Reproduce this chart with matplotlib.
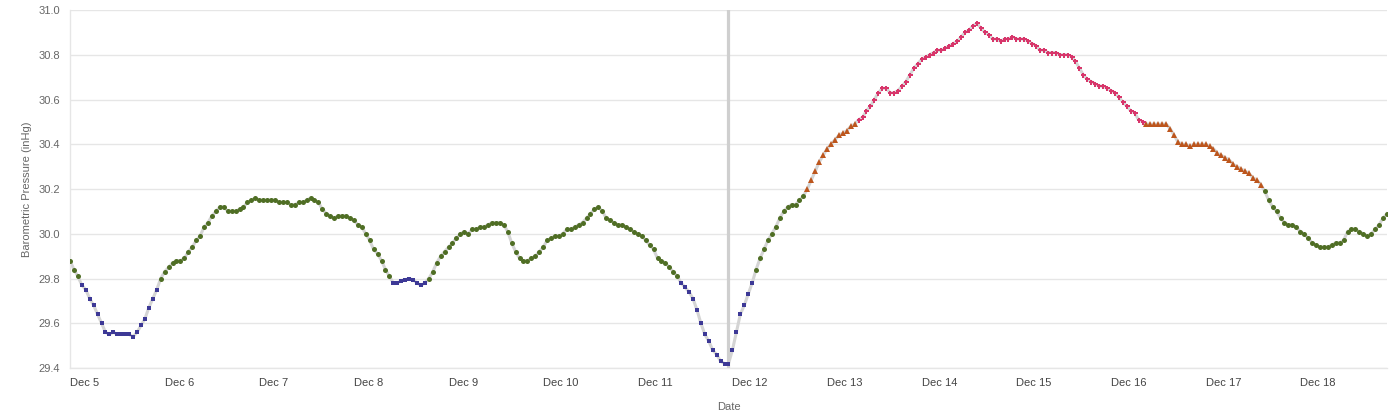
import numpy as np
import pandas as pd
import matplotlib
matplotlib.use('Agg')
import matplotlib.pyplot as plt
import matplotlib.transforms as mtransforms

# hourly barometric pressure (inHg), observed part up to "now", then forecast
observed = [
    29.88, 29.84, 29.81, 29.77, 29.75, 29.71, 29.68, 29.64, 29.60, 29.56, 29.55, 29.56,
    29.55, 29.55, 29.55, 29.55, 29.54, 29.56, 29.59, 29.62, 29.67, 29.71, 29.75, 29.80,
    29.83, 29.85, 29.87, 29.88, 29.88, 29.89, 29.92, 29.94, 29.97, 29.99, 30.03, 30.05,
    30.08, 30.10, 30.12, 30.12, 30.10, 30.10, 30.10, 30.11, 30.12, 30.14, 30.15, 30.16,
    30.15, 30.15, 30.15, 30.15, 30.15, 30.14, 30.14, 30.14, 30.13, 30.13, 30.14, 30.14,
    30.15, 30.16, 30.15, 30.14, 30.11, 30.09, 30.08, 30.07, 30.08, 30.08, 30.08, 30.07,
    30.06, 30.04, 30.03, 30.00, 29.97, 29.93, 29.91, 29.88, 29.84, 29.81, 29.78, 29.78,
    29.79, 29.795, 29.799, 29.795, 29.78, 29.77, 29.78, 29.80, 29.83, 29.87, 29.90, 29.92,
    29.94, 29.96, 29.98, 30.00, 30.01, 30.00, 30.02, 30.02, 30.03, 30.03, 30.04, 30.05,
    30.05, 30.05, 30.04, 30.01, 29.96, 29.92, 29.89, 29.88, 29.88, 29.89, 29.90, 29.92,
    29.94, 29.97, 29.98, 29.99, 29.99, 30.00, 30.02, 30.02, 30.03, 30.04, 30.05, 30.07,
    30.09, 30.11, 30.12, 30.10, 30.07, 30.06, 30.05, 30.04, 30.04, 30.03, 30.02, 30.01,
    30.00, 29.99, 29.97, 29.95, 29.93, 29.89, 29.88, 29.87, 29.85, 29.83, 29.81, 29.78,
    29.76, 29.74, 29.71, 29.66, 29.60, 29.55, 29.52, 29.48, 29.46, 29.43, 29.42, 29.42,
]
forecast = [
    29.48, 29.56, 29.64, 29.68, 29.73, 29.78, 29.84, 29.89, 29.93, 29.97, 30.00, 30.03,
    30.07, 30.10, 30.12, 30.13, 30.13, 30.15, 30.17, 30.20, 30.24, 30.28, 30.32, 30.35,
    30.38, 30.40, 30.42, 30.44, 30.45, 30.46, 30.48, 30.49, 30.51, 30.52, 30.55, 30.57,
    30.60, 30.63, 30.65, 30.65, 30.63, 30.63, 30.64, 30.66, 30.68, 30.71, 30.74, 30.76,
    30.78, 30.79, 30.80, 30.81, 30.82, 30.82, 30.83, 30.84, 30.85, 30.86, 30.88, 30.90,
    30.91, 30.93, 30.94, 30.92, 30.90, 30.89, 30.87, 30.87, 30.86, 30.87, 30.87, 30.88,
    30.87, 30.87, 30.87, 30.86, 30.85, 30.84, 30.82, 30.82, 30.81, 30.81, 30.81, 30.80,
    30.80, 30.80, 30.79, 30.77, 30.74, 30.71, 30.69, 30.68, 30.67, 30.66, 30.66, 30.65,
    30.64, 30.63, 30.61, 30.59, 30.57, 30.55, 30.54, 30.51, 30.50, 30.49, 30.49, 30.49,
    30.49, 30.49, 30.49, 30.47, 30.44, 30.41, 30.40, 30.40, 30.39, 30.40, 30.40, 30.40,
    30.40, 30.39, 30.38, 30.36, 30.35, 30.34, 30.33, 30.31, 30.30, 30.29, 30.28, 30.27,
    30.25, 30.24, 30.22, 30.19, 30.15, 30.12, 30.10, 30.07, 30.05, 30.04, 30.04, 30.03,
    30.01, 30.00, 29.98, 29.96, 29.95, 29.94, 29.94, 29.94, 29.95, 29.96, 29.96, 29.97,
    30.01, 30.02, 30.02, 30.01, 30.00, 29.99, 30.00, 30.02, 30.04, 30.07, 30.09,
]
start_time = '2023-12-05 00:00'
y_ticks = [29.4, 29.6, 29.8, 30.0, 30.2, 30.4, 30.6, 30.8, 31.0]

# marker style per pressure band: (low, high, marker, colour, size)
zones = [
    (0.0, 29.8, 's', '#3d3996', 3.0),
    (29.8, 30.2, 'o', '#4f6e24', 3.6),
    (30.2, 30.5, '^', '#bd561d', 3.8),
    (30.5, 99.0, 'P', '#d8366b', 3.6),
]

pressure = np.array(observed + forecast)
times = pd.date_range(start_time, periods=len(pressure), freq='h')
now_time = times[len(observed) - 1]

plt.rcParams['font.family'] = ['Liberation Sans', 'DejaVu Sans']

fig = plt.figure(figsize=(14, 4.17), dpi=100)
ax = fig.add_axes([0.05, 0.1175, 0.9407, 0.8585])

ax.plot(times, pressure, color='#d4d4d4', lw=2.2, zorder=2)
ax.axvline(now_time, color='#cfcfcf', lw=2.3, zorder=2.5)

for low, high, mk, col, ms in zones:
    m = (pressure >= low) & (pressure < high)
    ax.plot(times[m], pressure[m], linestyle='none', marker=mk, color=col,
            markersize=ms, markeredgewidth=0, zorder=3)

ax.set_ylim(29.4, 31.0)
ax.set_xlim(times[0], times[-1])
ax.set_yticks(y_ticks)
ax.set_yticklabels(['%.1f' % v for v in y_ticks])

days = pd.date_range(times[0].normalize(), times[-1], freq='D')
ax.set_xticks(days)
ax.set_xticklabels(['%s %d' % (d.strftime('%b'), d.day) for d in days])
offset = mtransforms.ScaledTranslation(2.5 / 100, 0, fig.dpi_scale_trans)
for lab in ax.get_xticklabels():
    lab.set_horizontalalignment('left')
    lab.set_transform(lab.get_transform() + offset)

ax.grid(axis='y', color='#e6e6e6', lw=1.0)
ax.set_axisbelow(True)
for s in ['top', 'right']:
    ax.spines[s].set_visible(False)
for s in ['left', 'bottom']:
    ax.spines[s].set_color('#e6e6e6')
    ax.spines[s].set_linewidth(1.0)

ax.tick_params(axis='both', length=0, labelsize=8)
ax.tick_params(axis='y', pad=7, labelcolor='#666666')
ax.tick_params(axis='x', pad=7.5, labelcolor='#444444')

ax.set_xlabel('Date', fontsize=8, color='#666666', labelpad=10)
ax.set_ylabel('Barometric Pressure (inHg)', fontsize=8, color='#666666', labelpad=5)

fig.savefig('out.png', dpi=100)
